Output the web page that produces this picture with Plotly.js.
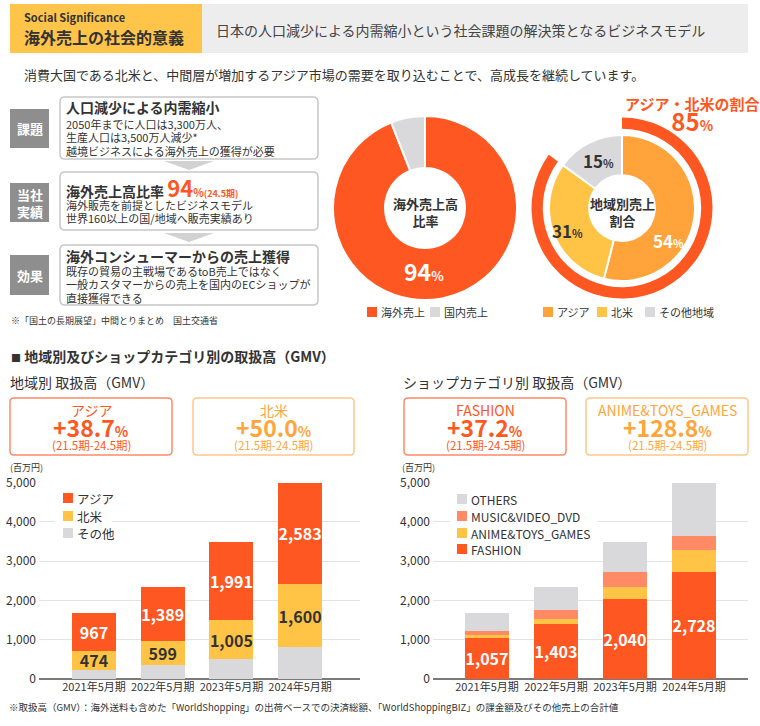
<!DOCTYPE html>
<html><head><meta charset="utf-8">
<script src="https://cdn.plot.ly/plotly-3.0.1.min.js"></script>
<style>html,body{margin:0;padding:0;background:#fff}</style>
</head><body><div id="chart" style="width:760px;height:726px"></div>
<script>
// ---------- data ----------
const periods = ['2021年5月期','2022年5月期','2023年5月期','2024年5月期'];
const regionNames = ['アジア','北米','その他'];
const regionAsia = [967,1389,1991,2583];
const regionNA = [474,599,1005,1600];
const regionOther = [235,364,500,817];
const catNames = ['OTHERS','MUSIC&VIDEO_DVD','ANIME&TOYS_GAMES','FASHION'];
const catFashion = [1057,1403,2040,2728];
const catAnime = [70,120,300,565];
const catMusic = [90,230,390,345];
const catOthers = [459,599,766,1362];
const salesLabels = ['海外売上','国内売上'];
const salesShare = [94,6];
const areaLabels = ['アジア','北米','その他地域'];
const areaShare = [54,31,15];
const asiaNAShare = 85;
const growthLabels = ['アジア','北米','FASHION','ANIME&TOYS_GAMES'];
const growthRates = [38.7,50.0,37.2,128.8];
const growthPeriod = '(21.5期-24.5期)';
const yTicks = [0,1000,2000,3000,4000,5000];

// ---------- helpers ----------
const W=760,H=726;
const X=p=>p/W, Y=p=>1-p/H;
const FONT="'Noto Sans CJK JP','Noto Sans',sans-serif";
const C_RED='#FF5722', C_YEL='#FFC445', C_GRY='#D9D9DB', C_ORG='#FFA33A', C_SAL='#FF8A65', C_TXT='#333333';
const shapes=[], ann=[];
function rect(x0,y0,x1,y1,fill,line,lw){shapes.push({type:'rect',xref:'paper',yref:'paper',x0:X(x0),x1:X(x1),y0:Y(y1),y1:Y(y0),fillcolor:fill,line:{color:line||fill,width:lw||0},layer:'above'});}
function rrect(x0,y0,x1,y1,r,stroke,lw,fill){
  const rx=r/W, ry=r/H, a=X(x0), b=X(x1), t=Y(y0), bt=Y(y1);
  const p=`M${a+rx},${t} L${b-rx},${t} Q${b},${t} ${b},${t-ry} L${b},${bt+ry} Q${b},${bt} ${b-rx},${bt} L${a+rx},${bt} Q${a},${bt} ${a},${bt+ry} L${a},${t-ry} Q${a},${t} ${a+rx},${t} Z`;
  shapes.push({type:'path',xref:'paper',yref:'paper',path:p,fillcolor:fill||'#fff',line:{color:stroke,width:lw},layer:'above'});
}
function tri(x0,x1,y0,y1,fill){
  const p=`M${X(x0)},${Y(y0)} L${X(x1)},${Y(y0)} L${X((x0+x1)/2)},${Y(y1)} Z`;
  shapes.push({type:'path',xref:'paper',yref:'paper',path:p,fillcolor:fill,line:{width:0},layer:'above'});
}
function t(x,y,text,size,color,anchor,bold,extra){
  ann.push(Object.assign({xref:'paper',yref:'paper',x:X(x),y:Y(y),text:bold?`<b>${text}</b>`:text,showarrow:false,
    xanchor:anchor||'left',yanchor:'middle',align:anchor==='center'?'center':'left',borderpad:0,
    font:{family:FONT,size:size,color:color||C_TXT}},extra||{}));
}
const sp=(s,px,col,b)=>`<span style="font-size:${px}px${col?';color:'+col:''}">${b?'<b>'+s+'</b>':s}</span>`;
// body lines: base font 10.2 (line pitch ~13.3px), glyphs drawn at 11px
const body=(lines)=>lines.map(l=>sp(l,11)).join('<br>');

// ---------- header ----------
rect(10,4,202,53,'#FFC44A');
rect(202,4,748,53,'#EDEDED');
t(23,17,'Social Significance',11,C_TXT,'left',true);
t(23,37.5,'海外売上の社会的意義',16,C_TXT,'left',true);
t(215,30,'日本の人口減少による内需縮小という社会課題の解決策となるビジネスモデル',14,'#444');
t(23,75,'消費大国である北米と、中間層が増加するアジア市場の需要を取り込むことで、高成長を継続しています。',13,C_TXT);

// ---------- left panel ----------
rect(10,109,49,148,'#8E8E8E'); t(29.5,128.5,'課題',13,'#fff','center',true);
rect(10,183,49,222,'#8E8E8E'); t(29.5,202.5,'当社<br>実績',13,'#fff','center',true);
rect(10,255,49,295,'#8E8E8E'); t(29.5,275,'効果',13,'#fff','center',true);
rrect(60,97,318,159,5,'#C8C8C8',1.5);
rrect(60,172,318,230,5,'#C8C8C8',1.5);
rrect(60,245,318,305,5,'#C8C8C8',1.5);
tri(164,214,161,170,'#D2D2D2');
tri(164,214,233,242,'#D2D2D2');
t(65,106.5,'人口減少による内需縮小',14,C_TXT,'left',true);
t(65,137.3,body(['2050年までに人口は3,300万人、','生産人口は3,500万人減少*','越境ビジネスによる海外売上の獲得が必要']),10.2);
t(65,187.5,`<b>海外売上高比率 </b>${sp(salesShare[0],22,C_RED,true)}${sp('%',11,C_RED,true)}${sp('(24.5期)',9,C_RED,true)}`,14);
t(65,211.8,body(['海外販売を前提としたビジネスモデル','世界160以上の国/地域へ販売実績あり']),10.2);
t(65,255.5,'海外コンシューマーからの売上獲得',14,C_TXT,'left',true);
t(65,284.5,body(['既存の貿易の主戦場であるtoB売上ではなく','一般カスタマーからの売上を国内のECショップが','直接獲得できる']),10.2);
t(10,320,'※「国土の長期展望」中間とりまとめ　国土交通省',9);

// ---------- donuts ----------
const traces=[];
traces.push({type:'pie',labels:salesLabels,values:salesShare,hole:0.435,sort:false,direction:'clockwise',rotation:0,
  marker:{colors:[C_RED,C_GRY],line:{color:'#fff',width:2}},textinfo:'none',hoverinfo:'skip',showlegend:false,
  domain:{x:[X(333),X(517)],y:[Y(300),Y(116)]}});
traces.push({type:'pie',labels:['ring-in','ring-out'],values:[asiaNAShare,100-asiaNAShare],hole:0.875,sort:false,direction:'clockwise',rotation:0,
  marker:{colors:[C_RED,'rgba(0,0,0,0)'],line:{width:0}},textinfo:'none',hoverinfo:'skip',showlegend:false,
  domain:{x:[X(531.5),X(712.5)],y:[Y(298.5),Y(117.5)]}});
traces.push({type:'pie',labels:areaLabels,values:areaShare,hole:0.45,sort:false,direction:'clockwise',rotation:0,
  marker:{colors:[C_ORG,C_YEL,C_GRY],line:{color:'#fff',width:2}},textinfo:'none',hoverinfo:'skip',showlegend:false,
  domain:{x:[X(549),X(695)],y:[Y(281),Y(135)]}});
const pct=(v,big,small,col)=>sp(v,big,col,true)+sp('%',small,col,true);
t(425,212,'海外売上高<br>比率',13,C_TXT,'center',true);
t(424,271,pct(salesShare[0],23,13,'#fff'),13,'#fff','center');
t(622,212,'地域別売上<br>割合',13,C_TXT,'center',true);
t(668,240,pct(areaShare[0],17,11,'#fff'),13,'#fff','center');
t(567,231,pct(areaShare[1],17,11,C_TXT),13,C_TXT,'center');
t(598,160,pct(areaShare[2],17,11,C_TXT),13,C_TXT,'center');
t(692,115,`${sp('アジア・北米の割合',15,C_RED,true)}<br>${pct(asiaNAShare,24,14,C_RED)}`,16,C_RED,'center');
// pie legends
function legendItem(sx,cy,color,label,size){rect(sx,cy-5,sx+10,cy+5,color);t(sx+13,cy,label,size||11);}
legendItem(367,312,C_RED,salesLabels[0]);
legendItem(430,312,C_GRY,salesLabels[1]);
legendItem(543,312,C_ORG,areaLabels[0]);
legendItem(597,312,C_YEL,areaLabels[1]);
legendItem(645,312,C_GRY,areaLabels[2]);

// ---------- GMV section ----------
t(10,356,'<span style="font-size:10px">■</span> 地域別及びショップカテゴリ別の取扱高（GMV）',14,C_TXT,'left',true);
t(9,382,'地域別 取扱高（GMV）',14);
t(402,382,'ショップカテゴリ別 取扱高（GMV）',14);
const boxes=[[10,172,C_RED,'#FF8A6A'],[193,354,'#FFA53B','#FFC88A'],[404,566,C_RED,'#FF8A6A'],[586,748,'#FFA53B','#FFC88A']];
boxes.forEach((b,i)=>{
  rrect(b[0],398,b[1],455,4,b[3],1.5);
  const cx=(b[0]+b[1])/2, g=growthRates[i];
  t(cx,410,growthLabels[i],14,b[2],'center');
  t(cx,427,sp((g>=0?'+':'')+g.toFixed(1),23,null,true)+sp('%',14,null,true),14,b[2],'center');
  t(cx,445,growthPeriod,11.5,b[2],'center');
});
t(9,467,'(百万円)',9);
t(401,467,'(百万円)',9);

// bars left
const lbl=(col)=>({texttemplate:'<b>%{y:,}</b>',textposition:'inside',insidetextanchor:'middle',textangle:0,textfont:{family:FONT,size:16,color:col},constraintext:'none'});
const bw=0.64;
traces.push({type:'bar',x:periods,y:regionOther,name:regionNames[2],marker:{color:C_GRY},width:bw,xaxis:'x',yaxis:'y',hoverinfo:'skip',textposition:'none'});
traces.push(Object.assign({type:'bar',x:periods,y:regionNA,name:regionNames[1],marker:{color:C_YEL},width:bw,xaxis:'x',yaxis:'y',hoverinfo:'skip'},lbl(C_TXT)));
traces.push(Object.assign({type:'bar',x:periods,y:regionAsia,name:regionNames[0],marker:{color:C_RED},width:bw,xaxis:'x',yaxis:'y',hoverinfo:'skip'},lbl('#fff')));
// bars right
traces.push(Object.assign({type:'bar',x:periods,y:catFashion,name:catNames[3],marker:{color:C_RED},width:bw,xaxis:'x2',yaxis:'y2',hoverinfo:'skip'},lbl('#fff')));
traces.push({type:'bar',x:periods,y:catAnime,name:catNames[2],marker:{color:C_YEL},width:bw,xaxis:'x2',yaxis:'y2',hoverinfo:'skip',textposition:'none'});
traces.push({type:'bar',x:periods,y:catMusic,name:catNames[1],marker:{color:C_SAL},width:bw,xaxis:'x2',yaxis:'y2',hoverinfo:'skip',textposition:'none'});
traces.push({type:'bar',x:periods,y:catOthers,name:catNames[0],marker:{color:C_GRY},width:bw,xaxis:'x2',yaxis:'y2',hoverinfo:'skip',textposition:'none'});

// manual bar legends
rect(55,487,112,544,'#fff');
legendItem(63,498,C_RED,regionNames[0],12.5);
legendItem(63,516,C_YEL,regionNames[1],12.5);
legendItem(63,533,C_GRY,regionNames[2],12.5);
rect(450,489,598,558,'#fff');
legendItem(457,499,C_GRY,catNames[0],12);
legendItem(457,516,C_SAL,catNames[1],12);
legendItem(457,533,C_YEL,catNames[2],12);
legendItem(457,549,C_RED,catNames[3],12);

t(8,707,'※取扱高（GMV）：海外送料も含めた「WorldShopping」の出荷ベースでの決済総額、「WorldShoppingBIZ」の課金額及びその他売上の合計値',9.5);

const xax=(dom,rng,anchor)=>({domain:dom,range:rng,anchor:anchor,type:'category',showgrid:false,zeroline:false,showline:false,ticks:'',
  tickangle:0,tickfont:{family:FONT,size:11,color:C_TXT},fixedrange:true});
const yax=(anchor)=>({domain:[Y(679),Y(482.7)],range:[0,5000],anchor:anchor,tickvals:yTicks,tickformat:',',showgrid:true,gridcolor:'#E3E3E3',gridwidth:1,
  zeroline:true,zerolinecolor:'#7A7A7A',zerolinewidth:2,showline:false,ticks:'',ticklabelstandoff:2,tickfont:{family:FONT,size:12,color:C_TXT},fixedrange:true});

const layout={width:760,height:726,margin:{l:0,r:0,t:0,b:0},paper_bgcolor:'#fff',plot_bgcolor:'rgba(0,0,0,0)',
  font:{family:FONT,color:C_TXT},showlegend:false,barmode:'stack',
  uniformtext:{mode:'show',minsize:16},
  xaxis:xax([X(39),X(360)],[-0.8006,3.872],'y'),
  yaxis:yax('x'),
  xaxis2:xax([X(433),X(748)],[-0.783,3.783],'y2'),
  yaxis2:yax('x2'),
  shapes:shapes,annotations:ann};
Plotly.newPlot('chart',traces,layout,{staticPlot:true,displayModeBar:false});
</script></body></html>
